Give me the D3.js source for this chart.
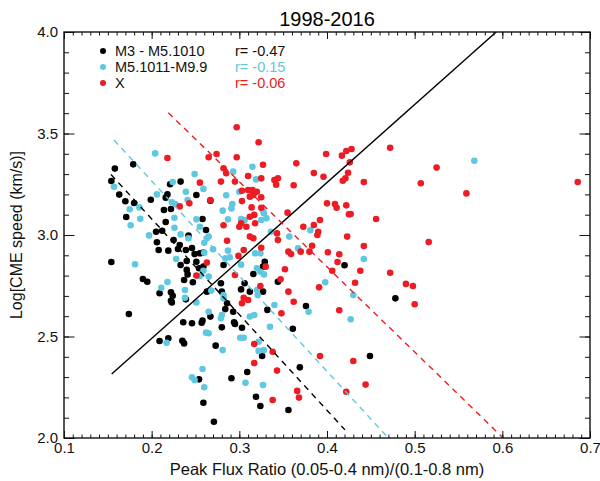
<!DOCTYPE html>
<html>
<head>
<meta charset="utf-8">
<script src="https://cdn.jsdelivr.net/npm/d3@7"></script>
<style>
  body { margin: 0; background: #fff; }
  svg { display: block; font-family: "Liberation Sans", Arial, sans-serif; }
</style>
</head>
<body>
<div id="chart"></div>
<script>
// M3 - M5.1010 flares: [peak flux ratio, log CME speed]
const m3 = [
  [0.158,3.327],[0.179,3.348],[0.154,3.266],[0.163,3.199],[0.170,3.166],[0.180,3.158],[0.171,3.089],[0.199,3.174],
  [0.221,3.250],[0.233,3.263],[0.218,3.200],[0.216,3.184],[0.222,3.128],[0.214,3.123],[0.216,3.064],[0.205,3.016],
  [0.212,3.021],[0.206,2.964],[0.208,2.926],[0.219,2.923],[0.225,2.975],[0.232,2.951],[0.230,2.931],[0.239,2.926],
  [0.240,2.872],[0.233,2.852],[0.240,2.828],[0.241,2.806],[0.237,2.778],[0.154,2.867],[0.190,2.783],[0.195,2.770],
  [0.242,2.997],[0.251,3.197],[0.267,3.169],[0.258,3.079],[0.262,3.025],[0.255,2.910],[0.259,2.913],[0.249,2.906],
  [0.251,2.868],[0.254,2.836],[0.259,2.844],[0.282,2.852],[0.316,2.808],[0.327,2.844],[0.329,2.868],[0.246,2.936],
  [0.174,2.611],[0.209,2.713],[0.222,2.718],[0.224,2.701],[0.222,2.676],[0.223,2.668],[0.239,2.683],[0.247,2.767],
  [0.263,2.721],[0.279,2.762],[0.280,2.721],[0.286,2.664],[0.284,2.635],[0.306,2.762],[0.302,2.732],[0.312,2.721],
  [0.327,2.721],[0.293,2.622],[0.294,2.570],[0.295,2.562],[0.303,2.543],[0.280,2.545],[0.258,2.578],[0.257,2.568],
  [0.246,2.565],[0.236,2.570],[0.267,2.598],[0.209,2.478],[0.219,2.491],[0.235,2.479],[0.237,2.466],[0.273,2.455],
  [0.332,2.631],[0.326,2.404],[0.309,2.325],[0.291,2.294],[0.254,2.289],[0.319,2.203],[0.324,2.158],[0.259,2.174],
  [0.271,2.080],[0.344,2.770],[0.420,2.851],[0.376,2.650],[0.478,2.688],[0.361,2.538],[0.449,2.404],[0.369,2.348],
  [0.356,2.138]
];

// M5.1011 - M9.9 flares
const m5 = [
  [0.204,3.402],[0.157,3.238],[0.206,3.200],[0.224,3.261],[0.239,3.213],[0.223,3.161],[0.227,3.153],[0.175,3.127],
  [0.186,3.136],[0.187,3.080],[0.176,3.048],[0.197,2.998],[0.226,3.085],[0.226,3.036],[0.233,3.003],[0.228,2.882],
  [0.181,2.856],[0.218,2.768],[0.211,2.740],[0.242,2.984],[0.241,3.172],[0.249,3.300],[0.259,3.227],[0.293,3.312],
  [0.315,3.336],[0.319,3.274],[0.300,3.213],[0.285,3.196],[0.292,3.153],[0.291,3.131],[0.281,3.120],[0.287,3.077],
  [0.302,3.079],[0.306,3.074],[0.327,3.120],[0.328,3.107],[0.325,3.074],[0.331,3.082],[0.255,3.041],[0.251,3.077],
  [0.263,2.984],[0.265,2.992],[0.260,2.962],[0.270,2.930],[0.287,2.923],[0.289,2.890],[0.284,2.885],[0.302,2.854],
  [0.318,2.910],[0.324,2.910],[0.320,2.836],[0.324,2.819],[0.328,2.806],[0.260,2.913],[0.259,2.824],[0.255,2.798],
  [0.265,2.795],[0.238,2.729],[0.238,2.691],[0.251,2.668],[0.268,2.726],[0.282,2.704],[0.282,2.688],[0.265,2.622],
  [0.280,2.606],[0.279,2.590],[0.262,2.519],[0.265,2.516],[0.281,2.433],[0.301,2.494],[0.305,2.494],[0.312,2.598],
  [0.317,2.606],[0.320,2.729],[0.321,2.704],[0.340,2.655],[0.335,2.548],[0.322,2.474],[0.322,2.429],[0.328,2.433],
  [0.217,2.469],[0.258,2.340],[0.246,2.299],[0.249,2.286],[0.260,2.250],[0.307,2.272],[0.327,2.261],[0.381,3.023],
  [0.357,2.992],[0.367,2.934],[0.442,2.882],[0.336,3.016],[0.398,2.767],[0.430,2.704],[0.379,2.622],[0.427,2.585],
  [0.568,3.366]
];

// X-class flares
const xcls = [
  [0.218,3.379],[0.232,3.141],[0.243,3.156],[0.297,3.531],[0.322,3.457],[0.265,3.383],[0.274,3.399],[0.297,3.383],
  [0.327,3.346],[0.282,3.329],[0.285,3.304],[0.255,3.258],[0.279,3.263],[0.295,3.263],[0.310,3.291],[0.325,3.279],
  [0.303,3.218],[0.310,3.222],[0.315,3.222],[0.316,3.197],[0.320,3.213],[0.312,3.189],[0.325,3.186],[0.303,3.167],
  [0.267,3.172],[0.314,3.136],[0.325,3.134],[0.312,3.090],[0.317,3.099],[0.300,3.041],[0.302,3.058],[0.308,3.041],
  [0.318,3.058],[0.312,2.992],[0.316,2.984],[0.282,3.048],[0.286,2.972],[0.343,3.008],[0.344,2.975],[0.325,2.937],
  [0.305,2.926],[0.299,2.897],[0.330,2.844],[0.263,2.864],[0.295,2.803],[0.251,2.800],[0.340,3.271],[0.344,3.279],
  [0.342,3.248],[0.324,2.749],[0.305,2.691],[0.303,2.664],[0.310,2.680],[0.317,2.463],[0.338,2.425],[0.317,2.369],
  [0.343,2.332],[0.338,2.187],[0.472,3.430],[0.525,3.332],[0.507,3.255],[0.399,3.399],[0.417,3.391],[0.422,3.414],
  [0.428,3.424],[0.426,3.358],[0.365,3.353],[0.385,3.305],[0.396,3.287],[0.424,3.307],[0.421,3.279],[0.418,3.267],
  [0.442,3.261],[0.362,3.245],[0.400,3.156],[0.409,3.153],[0.411,3.134],[0.422,3.146],[0.425,3.102],[0.427,3.103],
  [0.456,3.079],[0.516,2.965],[0.355,3.110],[0.392,3.074],[0.385,3.049],[0.373,3.041],[0.390,3.016],[0.389,3.000],
  [0.423,2.992],[0.383,2.947],[0.380,2.918],[0.356,2.918],[0.359,2.906],[0.370,2.918],[0.401,2.915],[0.414,2.905],
  [0.442,2.946],[0.412,2.867],[0.406,2.824],[0.438,2.824],[0.472,2.814],[0.352,2.831],[0.347,2.782],[0.490,2.759],
  [0.498,2.749],[0.500,2.659],[0.432,2.765],[0.391,2.742],[0.356,2.721],[0.362,2.671],[0.348,2.614],[0.414,2.629],
  [0.392,2.404],[0.430,2.379],[0.444,2.263],[0.422,2.228],[0.366,2.232],[0.368,2.199],[0.559,3.205],[0.686,3.261]
];

// fit lines (end points)
const fitAll = [[0.1544,2.315],[0.593,4.0]];
const fitM3 = [[0.1536,3.298],[0.4205,2.04]];
const fitM5 = [[0.157,3.468],[0.470,2.0]];
const fitX = [[0.219,3.602],[0.601,2.0]];

const seriesNames = ["M3 - M5.1010", "M5.1011-M9.9", "X"];
const rValues = ["r= -0.47", "r= -0.15", "r= -0.06"];
const colors = ["#000000", "#5ec8e0", "#ed1c24"];

const xTicks = [0.1, 0.2, 0.3, 0.4, 0.5, 0.6, 0.7];
const yTicks = [2.0, 2.5, 3.0, 3.5, 4.0];

const margin = { top: 32, right: 10, bottom: 43, left: 64 };
const width = 600 - margin.left - margin.right;
const height = 481 - margin.top - margin.bottom;

const svg = d3.select("#chart")
  .append("svg")
  .attr("width", 600)
  .attr("height", 481);

const g = svg.append("g")
  .attr("transform", `translate(${margin.left},${margin.top})`);

const x = d3.scaleLinear().domain([0.1, 0.7]).range([0, width]);
const y = d3.scaleLinear().domain([2.0, 4.0]).range([height, 0]);

g.append("clipPath").attr("id", "clip")
  .append("rect").attr("width", width).attr("height", height);

// points
[m3, m5, xcls].forEach((data, i) => {
  g.append("g")
    .selectAll("circle")
    .data(data)
    .enter()
    .append("circle")
    .attr("cx", d => x(d[0]))
    .attr("cy", d => y(d[1]))
    .attr("r", 3.3)
    .attr("fill", colors[i]);
});

// lines
const line = d3.line().x(d => x(d[0])).y(d => y(d[1]));
const lines = [
  { data: fitAll, color: "#000", dash: null },
  { data: fitM3, color: colors[0], dash: "6,5" },
  { data: fitM5, color: colors[1], dash: "6,5" },
  { data: fitX, color: colors[2], dash: "6,5" }
];
lines.forEach(l => {
  g.append("path")
    .attr("d", line(l.data))
    .attr("fill", "none")
    .attr("stroke", l.color)
    .attr("stroke-width", 1.4)
    .attr("stroke-dasharray", l.dash)
    .attr("clip-path", "url(#clip)");
});

// axes: IDL style, inward ticks on all four sides
const xMinor = d3.range(10, 71).map(v => v / 100);
const yMinor = d3.range(20, 41).map(v => v / 10);

function styleAxis(sel) {
  sel.select(".domain").remove();
  sel.selectAll(".tick line").attr("stroke", "#111").attr("stroke-width", 1);
  sel.selectAll("text").attr("fill", "#111").style("font-size", "15px");
}

g.append("g").attr("transform", `translate(0,${height})`)
  .call(d3.axisBottom(x).tickValues(xMinor).tickSize(-3.5).tickFormat(""))
  .call(styleAxis);
g.append("g").attr("transform", `translate(0,${height})`)
  .call(d3.axisBottom(x).tickValues(xTicks).tickSize(-7).tickPadding(4.5).tickFormat(d3.format(".1f")))
  .call(styleAxis);
g.append("g")
  .call(d3.axisTop(x).tickValues(xMinor).tickSize(-3.5).tickFormat(""))
  .call(styleAxis);
g.append("g")
  .call(d3.axisTop(x).tickValues(xTicks).tickSize(-7).tickFormat(""))
  .call(styleAxis);

g.append("g")
  .call(d3.axisLeft(y).tickValues(yMinor).tickSize(-5).tickFormat(""))
  .call(styleAxis);
g.append("g")
  .call(d3.axisLeft(y).tickValues(yTicks).tickSize(-10.5).tickPadding(6).tickFormat(d3.format(".1f")))
  .call(styleAxis);
g.append("g").attr("transform", `translate(${width},0)`)
  .call(d3.axisRight(y).tickValues(yMinor).tickSize(-5).tickFormat(""))
  .call(styleAxis);
g.append("g").attr("transform", `translate(${width},0)`)
  .call(d3.axisRight(y).tickValues(yTicks).tickSize(-10.5).tickFormat(""))
  .call(styleAxis);

g.append("rect")
  .attr("width", width)
  .attr("height", height)
  .attr("fill", "none")
  .attr("stroke", "#111")
  .attr("stroke-width", 1.4);

// title and axis labels
svg.append("text")
  .attr("x", margin.left + width / 2)
  .attr("y", 26)
  .attr("text-anchor", "middle")
  .style("font-size", "20px")
  .text("1998-2016");

svg.append("text")
  .attr("x", margin.left + width / 2)
  .attr("y", 475)
  .attr("text-anchor", "middle")
  .attr("fill", "#111")
  .style("font-size", "16.5px")
  .text("Peak Flux Ratio (0.05-0.4 nm)/(0.1-0.8 nm)");

svg.append("text")
  .attr("transform", `translate(22,${margin.top + height / 2}) rotate(-90)`)
  .attr("text-anchor", "middle")
  .attr("fill", "#111")
  .style("font-size", "16px")
  .text("Log[CME speed (km/s)]");

// legend
const legend = svg.append("g");
seriesNames.forEach((name, i) => {
  const yy = 56 + i * 16;
  legend.append("circle")
    .attr("cx", 103)
    .attr("cy", yy - 5)
    .attr("r", 3)
    .attr("fill", colors[i]);
  legend.append("text")
    .attr("x", 115)
    .attr("y", yy)
    .style("font-size", "14.5px")
    .attr("fill", "#111")
    .text(name);
  legend.append("text")
    .attr("x", 235)
    .attr("y", yy)
    .style("font-size", "14.5px")
    .attr("fill", i === 0 ? "#111" : colors[i])
    .text(rValues[i]);
});
</script>
</body>
</html>
